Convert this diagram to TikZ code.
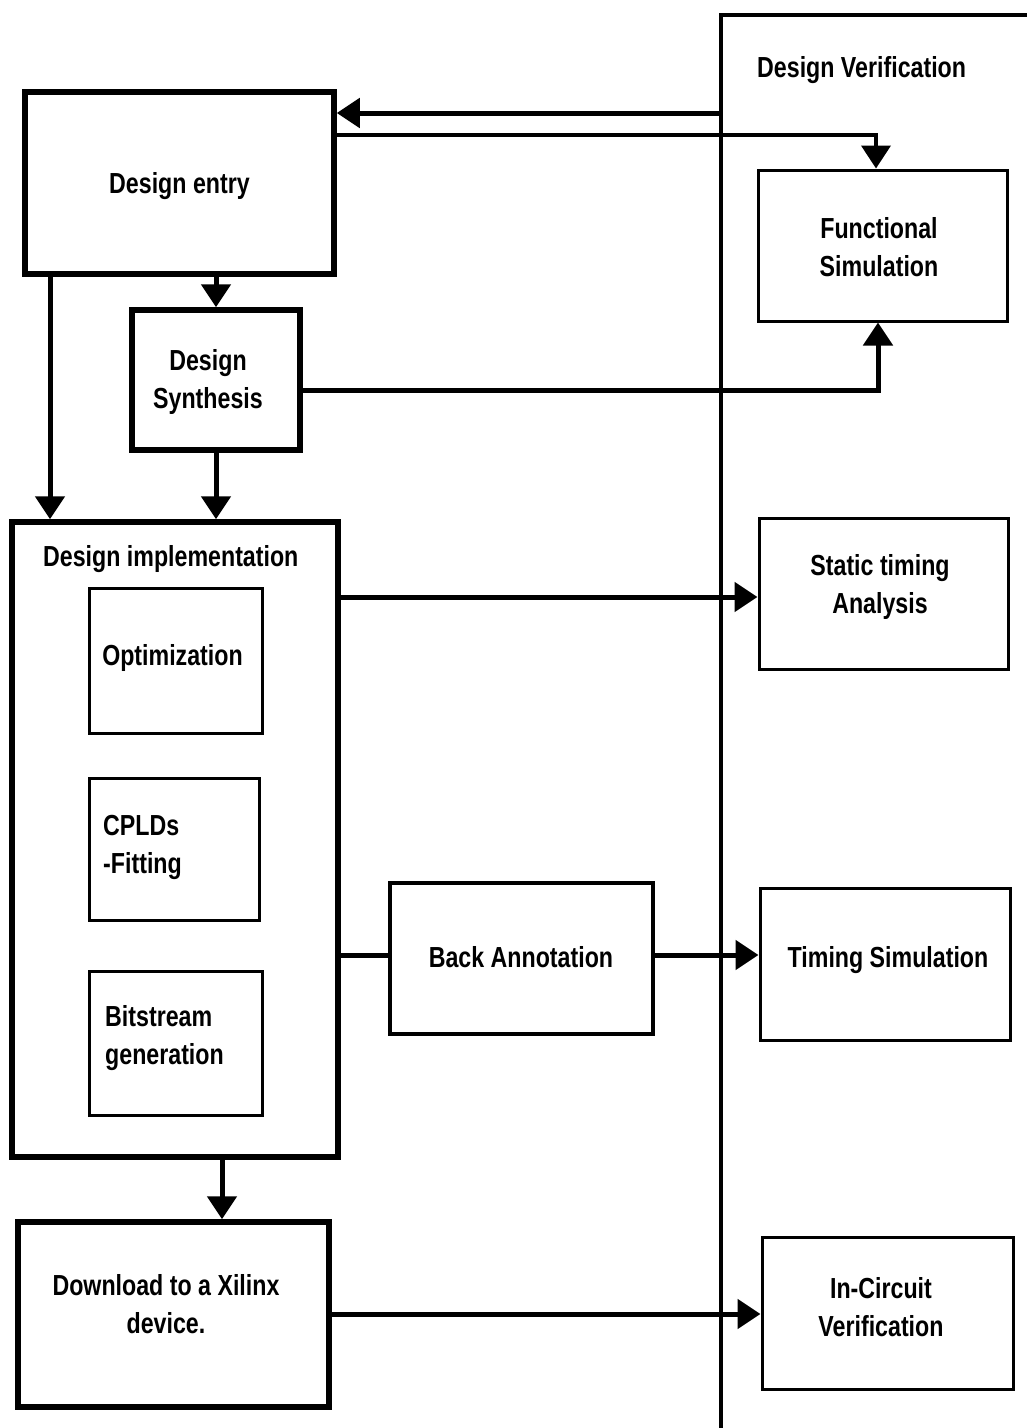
\documentclass[tikz,border=0pt]{standalone}
\usepackage{fontspec}
\setmainfont{Liberation Sans}[FakeStretch=0.8]
\usetikzlibrary{arrows.meta}
\begin{document}
\begin{tikzpicture}[x=1pt,y=-1pt,
  thickbox/.style={draw,line width=5.5pt,rectangle,inner sep=0pt,align=center,font=\fontsize{29}{38}\selectfont\bfseries},
  thinbox/.style={draw,line width=3pt,rectangle,inner sep=0pt,align=center,font=\fontsize{29}{38}\selectfont\bfseries},
  lbl/.style={inner sep=0pt,align=left,font=\fontsize{29}{38}\selectfont\bfseries},
  clbl/.style={inner sep=0pt,align=center,font=\fontsize{29}{38}\selectfont\bfseries},
  conn/.style={line width=5pt},
  arr/.style={line width=5pt,-{Triangle[length=23pt,width=29pt]}},
  sep/.style={line width=4pt}]
\useasboundingbox (0,0) rectangle (1027,1428);
% verification column
\coordinate (vtop) at (721,15);
\coordinate (vbot) at (721,1430);
\coordinate (vright) at (1029,15);
\draw[sep] (vbot) -- (vtop) -- (vright);
\node[lbl,anchor=west] (vt) at (757,70) {Design Verification};
% boxes
\node[thickbox,minimum width=309pt,minimum height=182pt] (de) at (179.5,183) {};
\node[clbl] (det) at (179.5,186) {Design entry};
\node[thinbox,minimum width=249pt,minimum height=151pt] (fs) at (882.5,245.5) {};
\node[clbl] (fst) at (879,247) {Functional\\Simulation};
\node[thickbox,minimum width=168pt,minimum height=140pt] (ds) at (216,380) {};
\node[clbl] (dst) at (208,382) {Design\\Synthesis};
\node[thickbox,minimum width=326pt,minimum height=635pt] (impl) at (175,839.5) {};
\node[lbl,anchor=west] (implt) at (43,559) {Design implementation};
\node[thinbox,minimum width=173pt,minimum height=145pt] (opt) at (175.5,660.5) {};
\node[lbl] (optt) at (172.5,658) {Optimization};
\node[thinbox,minimum width=170pt,minimum height=142pt] (cpld) at (174,849) {};
\node[lbl,anchor=west] (cpldt) at (103,847) {CPLDs\\-Fitting};
\node[thinbox,minimum width=173pt,minimum height=144pt] (bit) at (175.5,1043) {};
\node[lbl,anchor=west] (bitt) at (105,1038) {Bitstream\\generation};
\node[thinbox,minimum width=249pt,minimum height=151pt] (sta) at (883.5,593.5) {};
\node[clbl] (stat) at (880,587) {Static timing\\Analysis};
\node[thickbox,line width=4.5pt,minimum width=263pt,minimum height=151pt] (ba) at (521.5,958.5) {};
\node[clbl] (bat) at (521,957) {Back Annotation};
\node[thinbox,minimum width=250pt,minimum height=152pt] (ts) at (885,964) {};
\node[clbl] (tst) at (888,960) {Timing Simulation};
\node[thickbox,minimum width=311pt,minimum height=185pt] (dl) at (173.5,1314.5) {};
\node[clbl] (dlt) at (166,1304) {Download to a Xilinx\\device.};
\node[thinbox,minimum width=251pt,minimum height=152pt] (icv) at (887.5,1313) {};
\node[clbl] (icvt) at (881,1307) {In-Circuit\\Verification};
% helper coordinates
\coordinate (c1) at (721,113);
\coordinate (c2) at (876,135);
\coordinate (c3) at (878,390);
\coordinate (a1) at (50,0);
\coordinate (a2) at (222,0);
% connectors
\draw[arr] (c1) -- (de.east |- c1);
\draw[arr,line width=4pt] (de.east |- c2) -| (fs.north -| c2);
\draw[arr] (ds.east |- c3) -| (fs.south -| c3);
\draw[arr] (de.south -| ds.north) -- (ds.north);
\draw[arr] (de.south -| a1) -- (impl.north -| a1);
\draw[arr] (ds.south) -- (impl.north -| ds.south);
\draw[arr] (impl.east |- 0,597) -- (sta.west |- 0,597);
\draw[conn] (impl.east |- 0,955) -- (ba.west |- 0,955);
\draw[arr] (ba.east |- 0,955) -- (ts.west |- 0,955);
\draw[arr] (impl.south -| a2) -- (dl.north -| a2);
\draw[arr] (dl.east |- 0,1314) -- (icv.west |- 0,1314);
\end{tikzpicture}
\end{document}
